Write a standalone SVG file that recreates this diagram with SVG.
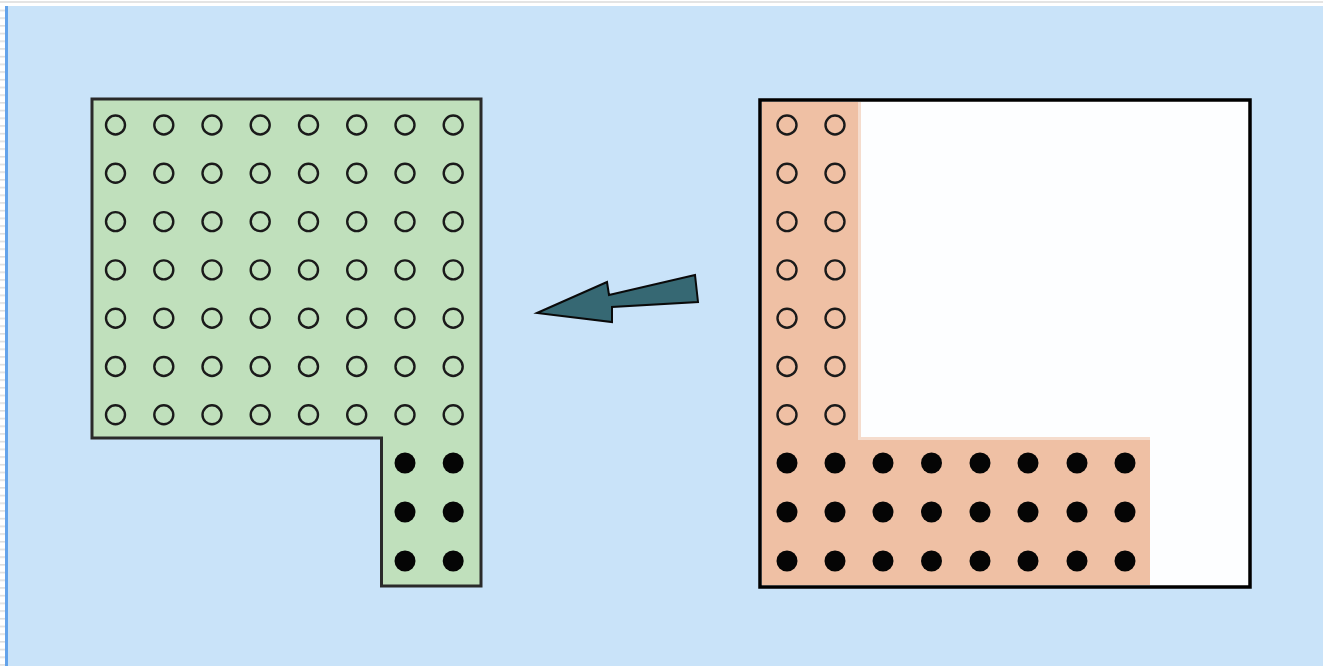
<svg xmlns="http://www.w3.org/2000/svg" width="1323" height="666" viewBox="0 0 1323 666">
  <style>
    .open { fill: none; stroke: #1a1a1a; stroke-width: 2.4; }
    .dot { fill: #050505; stroke: none; }
  </style>
  <defs>
    <pattern id="ticks" x="0" y="0" width="6" height="7.7" patternUnits="userSpaceOnUse">
      <rect x="0" y="2" width="5" height="1.5" fill="#dcdcdc"/>
    </pattern>
    <g id="ocol">
      <circle class="open" cx="0" cy="125" r="9.5"/>
      <circle class="open" cx="0" cy="173.3" r="9.5"/>
      <circle class="open" cx="0" cy="221.6" r="9.5"/>
      <circle class="open" cx="0" cy="269.9" r="9.5"/>
      <circle class="open" cx="0" cy="318.2" r="9.5"/>
      <circle class="open" cx="0" cy="366.5" r="9.5"/>
      <circle class="open" cx="0" cy="414.8" r="9.5"/>
    </g>
    <g id="fcol">
      <circle class="dot" cx="0" cy="463" r="10.5"/>
      <circle class="dot" cx="0" cy="512" r="10.5"/>
      <circle class="dot" cx="0" cy="561" r="10.5"/>
    </g>
  </defs>

  <!-- background -->
  <rect x="0" y="0" width="1323" height="666" fill="#ffffff"/>
  <rect x="0" y="6" width="5" height="660" fill="url(#ticks)"/>
  <rect x="0" y="1" width="1323" height="2" fill="#e4e4e4"/>
  <rect x="5" y="6" width="1318" height="660" fill="#c9e3f9"/>
  <rect x="5" y="6" width="3" height="660" fill="#64a3ea"/>

  <!-- left node -->
  <g id="node-left">
    <path d="M92 99 H481 V586 H381.5 V438 H92 Z" fill="#c0e0bc" stroke="#2a2a2a" stroke-width="3"/>
    <use href="#ocol" x="115.5"/>
    <use href="#ocol" x="163.8"/>
    <use href="#ocol" x="212"/>
    <use href="#ocol" x="260.2"/>
    <use href="#ocol" x="308.5"/>
    <use href="#ocol" x="356.7"/>
    <use href="#ocol" x="405"/>
    <use href="#ocol" x="453.2"/>
    <use href="#fcol" x="405"/>
    <use href="#fcol" x="453.2"/>
  </g>

  <!-- right node -->
  <g id="node-right">
    <rect x="760" y="100" width="490" height="487" fill="#fdfeff"/>
    <path d="M762 102 H858 V438 H1150 V585 H762 Z" fill="#efc0a4"/>
    <rect x="858" y="102" width="3" height="336" fill="#f5dccd"/>
    <rect x="858" y="437" width="292" height="3" fill="#f5dccd"/>
    <rect x="760" y="100" width="490" height="487" fill="none" stroke="#000" stroke-width="3.5"/>
    <use href="#ocol" x="787"/>
    <use href="#ocol" x="835"/>
    <use href="#fcol" x="787"/>
    <use href="#fcol" x="835"/>
    <use href="#fcol" x="883"/>
    <use href="#fcol" x="931.5"/>
    <use href="#fcol" x="980"/>
    <use href="#fcol" x="1028"/>
    <use href="#fcol" x="1077"/>
    <use href="#fcol" x="1125"/>
  </g>

  <!-- connector -->
  <g id="connectors">
    <path d="M537 313 L607 282 L609 295 L695 275 L698 302 L612 307 L612 322 Z" fill="#366873" stroke="#0a0a0a" stroke-width="2" stroke-linejoin="miter"/>
  </g>
</svg>
